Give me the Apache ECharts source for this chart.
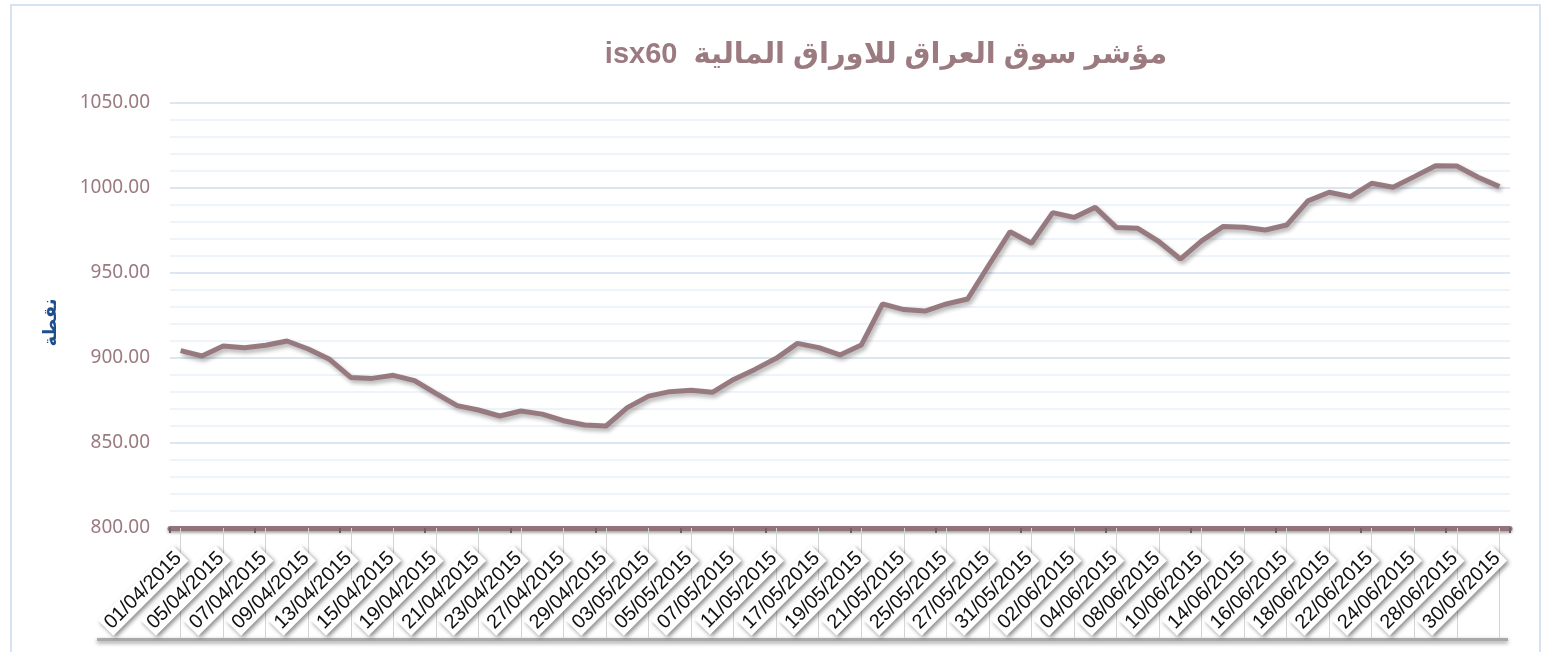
<!DOCTYPE html>
<html>
<head>
<meta charset="utf-8">
<script src="https://cdn.jsdelivr.net/npm/echarts@6/dist/echarts.min.js"></script>
<style>
  html, body { margin: 0; padding: 0; background: #fff; }
  #isx-line { width: 1545px; height: 652px; }
</style>
</head>
<body>
<div id="isx-line"></div>
<script>
// trading days, Apr - Jun 2015 (every other one is labelled)
const tradingDays = [
  "01/04/2015", "02/04/2015", "05/04/2015", "06/04/2015", "07/04/2015", "08/04/2015",
  "09/04/2015", "12/04/2015", "13/04/2015", "14/04/2015", "15/04/2015", "16/04/2015",
  "19/04/2015", "20/04/2015", "21/04/2015", "22/04/2015", "23/04/2015", "26/04/2015",
  "27/04/2015", "28/04/2015", "29/04/2015", "30/04/2015", "03/05/2015", "04/05/2015",
  "05/05/2015", "06/05/2015", "07/05/2015", "10/05/2015", "11/05/2015", "12/05/2015",
  "17/05/2015", "18/05/2015", "19/05/2015", "20/05/2015", "21/05/2015", "24/05/2015",
  "25/05/2015", "26/05/2015", "27/05/2015", "28/05/2015", "31/05/2015", "01/06/2015",
  "02/06/2015", "03/06/2015", "04/06/2015", "07/06/2015", "08/06/2015", "09/06/2015",
  "10/06/2015", "11/06/2015", "14/06/2015", "15/06/2015", "16/06/2015", "17/06/2015",
  "18/06/2015", "21/06/2015", "22/06/2015", "23/06/2015", "24/06/2015", "25/06/2015",
  "28/06/2015", "29/06/2015", "30/06/2015"
];

// isx60 closing points
const isx60Points = [
  904.3, 901.2, 907.0, 906.0, 907.5, 910.0, 905.3, 899.2, 888.6, 888.0,
  889.8, 886.7, 879.2, 872.0, 869.4, 865.9, 868.8, 867.0, 863.1, 860.6,
  860.0, 870.8, 877.6, 880.2, 881.0, 879.8, 887.4, 893.3, 899.8, 908.6,
  906.1, 901.8, 907.6, 931.8, 928.5, 927.6, 931.8, 934.7, 954.7, 974.3,
  967.5, 985.5, 982.7, 988.6, 976.7, 976.3, 968.4, 958.2, 968.9, 977.3,
  976.9, 975.3, 978.2, 992.4, 997.5, 994.9, 1002.8, 1000.4, 1006.7, 1013.1,
  1012.9, 1006.3, 1000.8
];

const yMin = 800;
const yMax = 1050;
const yStep = 50;

const chart = echarts.init(document.getElementById("isx-line"));

const option = {
  backgroundColor: "#fff",
  animation: false,
  title: {
    text: "isx60  مؤشر سوق العراق للاوراق المالية",
    left: 881,
    top: 35,
    textAlign: "center",
    textStyle: {
      fontFamily: "Liberation Sans, DejaVu Sans, sans-serif",
      fontWeight: "bold",
      fontSize: 29,
      color: "#9b7a80",
    },
  },
  graphic: [
    {
      type: "rect",
      shape: { x: 11, y: 5, width: 1529, height: 680 },
      style: { fill: "none", stroke: "#d6e4f2", lineWidth: 2 },
      z: -1,
    },
    {
      type: "rect",
      shape: { x: 97, y: 638, width: 1411, height: 3 },
      style: {
        fill: "#a9a9a9",
        shadowBlur: 4,
        shadowColor: "rgba(0,0,0,0.45)",
        shadowOffsetY: 2,
      },
      z: 1,
    },
  ],
  grid: {
    left: 170,
    right: 35,
    top: 103,
    bottom: 124,
  },
  xAxis: [
    {
      type: "category",
      data: tradingDays,
      boundaryGap: true,
      axisLine: {
        show: true,
        lineStyle: {
          color: "#93737a",
          width: 5,
          shadowColor: "rgba(0,0,0,0.35)",
          shadowBlur: 3,
          shadowOffsetY: 2,
        },
      },
      axisTick: {
        show: true,
        alignWithLabel: true,
        interval: 1,
        length: 110,
        lineStyle: { color: "#d4d4d4", width: 1 },
      },
      axisLabel: {
        interval: 1,
        rotate: 45,
        margin: 25,
        fontFamily: "Liberation Sans, sans-serif",
        fontSize: 20,
        color: "#111",
        backgroundColor: "#fff",
        padding: [1, 3],
        shadowColor: "rgba(0,0,0,0.45)",
        shadowBlur: 4,
        shadowOffsetX: 2,
        shadowOffsetY: 2,
      },
      splitLine: { show: false },
      z: 3,
    },
    {
      type: "category",
      data: tradingDays,
      position: "bottom",
      boundaryGap: true,
      axisLine: { show: false },
      axisTick: {
        show: true,
        length: 5,
        lineStyle: { color: "#6f6266", width: 2 },
      },
      axisLabel: { show: false },
      splitLine: { show: false },
      z: 4,
    },
  ],
  yAxis: {
    type: "value",
    min: yMin,
    max: yMax,
    interval: yStep,
    name: "نقطة",
    nameLocation: "middle",
    nameRotate: 90,
    nameGap: 110,
    nameTextStyle: {
      fontFamily: "DejaVu Sans, sans-serif",
      fontWeight: "bold",
      fontSize: 18,
      color: "#1f4e8c",
      padding: [0, 14, 0, 0],
    },
    axisLine: { show: false },
    axisTick: { show: false },
    axisLabel: {
      margin: 20,
      fontFamily: "Noto Sans, sans-serif",
      fontSize: 19,
      color: "#9a7a80",
      formatter: (v) => v.toFixed(2),
    },
    splitLine: {
      lineStyle: { color: "#dbe6f3", width: 2 },
    },
    minorTick: { show: false, splitNumber: 5 },
    minorSplitLine: {
      show: true,
      lineStyle: { color: "#eff4fa", width: 2 },
    },
  },
  series: [
    {
      name: "isx60",
      type: "line",
      data: isx60Points,
      showSymbol: false,
      symbol: "none",
      lineStyle: {
        color: "#977a80",
        width: 5,
        shadowColor: "rgba(0,0,0,0.3)",
        shadowBlur: 4,
        shadowOffsetX: 2,
        shadowOffsetY: 3,
      },
      z: 5,
    },
  ],
};

chart.setOption(option);
</script>
</body>
</html>
